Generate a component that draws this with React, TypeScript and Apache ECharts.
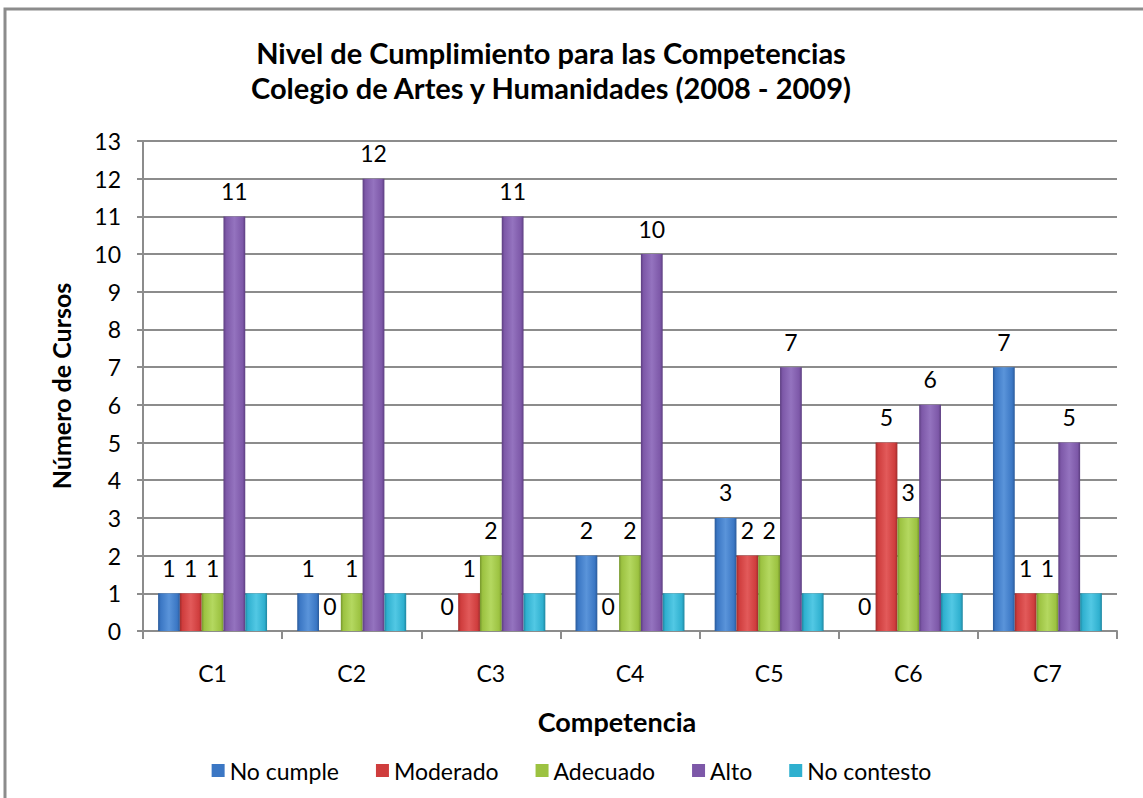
import React, { useEffect, useRef } from "react";
import * as echarts from "echarts";

const categories = ["C1", "C2", "C3", "C4", "C5", "C6", "C7"];
const seriesNames = ["No cumple", "Moderado", "Adecuado", "Alto", "No contesto"];
const noCumple = [1, 1, 0, 2, 3, 0, 7];
const moderado = [1, 0, 1, 0, 2, 5, 1];
const adecuado = [1, 1, 2, 2, 2, 3, 1];
const alto = [11, 12, 11, 10, 7, 6, 5];
const noContesto = [1, 1, 1, 1, 1, 1, 1];
const seriesValues = [noCumple, moderado, adecuado, alto, noContesto];
const showLabels = [true, true, true, true, false];
const baseColors = ["#3b77c4", "#cf3d3d", "#9cc241", "#7d58a8", "#2fb0cf"];
const darkColors = ["#2a5a9a", "#a02c2c", "#76962c", "#5c3e80", "#1f86a0"];
const lightColors = ["#5a94da", "#e25a5a", "#b4d860", "#9473bf", "#52c8e4"];

const FONT = "Lato, 'Open Sans', sans-serif";

export default function App() {
  const ref = useRef<HTMLDivElement>(null);
  useEffect(() => {
    if (!ref.current) return;
    const chart = echarts.init(ref.current, null, { renderer: "svg" });
    const series = seriesNames.map((name, i) => ({
      name,
      type: "bar",
      data: seriesValues[i],
      barGap: "0%",
      barCategoryGap: "21.7%",
      itemStyle: {
        color: new echarts.graphic.LinearGradient(0, 0, 1, 0, [
          { offset: 0, color: darkColors[i] },
          { offset: 0.12, color: baseColors[i] },
          { offset: 0.5, color: lightColors[i] },
          { offset: 0.88, color: baseColors[i] },
          { offset: 1, color: darkColors[i] },
        ]),
      },
      label: {
        show: showLabels[i],
        position: "top",
        distance: 14,
        color: "#000",
        fontSize: 23,
        fontFamily: FONT,
      },
    }));
    chart.setOption({
      animation: false,
      backgroundColor: "#fff",
      textStyle: { fontFamily: FONT },
      title: {
        text: "Nivel de Cumplimiento para las Competencias\nColegio de Artes y Humanidades (2008 - 2009)",
        left: 546,
        top: 30,
        textAlign: "center",
        textStyle: {
          fontSize: 29,
          fontWeight: "bold",
          color: "#000",
          fontFamily: FONT,
          lineHeight: 35,
        },
      },
      graphic: [
        {
          type: "rect",
          shape: { x: 5, y: 9, width: 1150, height: 800 },
          style: { fill: "none", stroke: "#8c8c8c", lineWidth: 3 },
          silent: true,
          z: 100,
        },
      ],
      legend: {
        data: seriesNames.map((n, i) => ({ name: n, itemStyle: { color: baseColors[i] } })),
        bottom: 11,
        left: "center",
        icon: "rect",
        itemWidth: 13,
        itemHeight: 13,
        itemGap: 37,
        textStyle: { fontSize: 23, color: "#000", fontFamily: FONT },
      },
      grid: { left: 143, right: 26, top: 141, bottom: 167 },
      xAxis: {
        type: "category",
        data: categories,
        name: "Competencia",
        nameLocation: "middle",
        nameGap: 77,
        nameTextStyle: {
          fontSize: 27,
          fontWeight: "bold",
          color: "#000",
          fontFamily: FONT,
          padding: [0, 26, 0, 0],
        },
        axisLine: { lineStyle: { color: "#8c8c8c", width: 2 } },
        axisTick: { show: true, length: 8, lineStyle: { color: "#8c8c8c", width: 2 } },
        axisLabel: { fontSize: 23, color: "#000", margin: 30, fontFamily: FONT },
      },
      yAxis: {
        type: "value",
        min: 0,
        max: 13,
        interval: 1,
        name: "Número de Cursos",
        nameLocation: "middle",
        nameGap: 70,
        nameTextStyle: { fontSize: 25, fontWeight: "bold", color: "#000", fontFamily: FONT },
        axisLine: { show: true, lineStyle: { color: "#8c8c8c", width: 2 } },
        axisTick: { show: true, length: 6, lineStyle: { color: "#8c8c8c", width: 2 } },
        axisLabel: { fontSize: 23, color: "#000", margin: 22, fontFamily: FONT },
        splitLine: { lineStyle: { color: "#8c8c8c", width: 2 } },
      },
      series,
    });
    return () => chart.dispose();
  }, []);
  return (
    <div
      ref={ref}
      style={{ position: "fixed", left: 0, top: 0, width: 1143, height: 798 }}
    />
  );
}
